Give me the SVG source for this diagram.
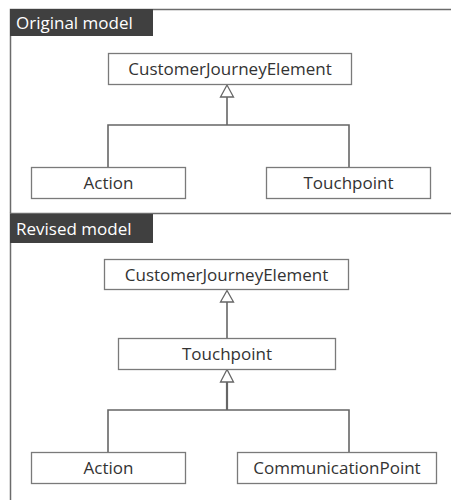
<svg xmlns="http://www.w3.org/2000/svg" width="451" height="500" viewBox="0 0 451 500">
<defs>
<style>
.frame{fill:none;stroke:#6b6b6b;stroke-width:1.5}
.tab{fill:#404040}
.tabtext{font-family:"Open Sans","Noto Sans",sans-serif;font-size:17px;fill:#ffffff}
.box{fill:#ffffff;stroke:#7a7a7a;stroke-width:1.3}
.label{font-family:"Open Sans","Noto Sans",sans-serif;font-size:17px;fill:#333333;text-anchor:middle}
.conn{fill:none;stroke:#666666;stroke-width:1.6}
.head{fill:#ffffff;stroke:#666666;stroke-width:1.3}
</style>
</defs>
<rect width="451" height="500" fill="#ffffff"/>
<!-- frames -->
<g id="frame-original">
<path class="frame" d="M451 9.5H10.5V213"/>
<rect class="tab" x="10" y="9" width="143" height="27"/>
<text class="tabtext" x="16" y="29">Original model</text>
</g>
<g id="frame-revised">
<path class="frame" d="M451 213.5H10.5V500"/>
<rect class="tab" x="10" y="214" width="143" height="29"/>
<text class="tabtext" x="16" y="235">Revised model</text>
</g>
<!-- connectors -->
<g id="connectors">
<path class="conn" d="M227 97V125M108 167V125H349V167"/>
<polygon class="head" points="227,85 220.5,97 233.5,97"/>
<path class="conn" d="M227 302V338"/>
<polygon class="head" points="227,290.5 220.5,302 233.5,302"/>
<path class="conn" d="M227 382V410" style="stroke-width:2.2"/>
<path class="conn" d="M108 452V410H349V452"/>
<polygon class="head" points="227,369.5 220.5,382 233.5,382"/>
</g>
<!-- original model nodes -->
<g id="o-cje">
<rect class="box" x="108.5" y="53.5" width="243" height="31"/>
<text class="label" x="230" y="75">CustomerJourneyElement</text>
</g>
<g id="o-action">
<rect class="box" x="31.5" y="167.5" width="154" height="31"/>
<text class="label" x="108.5" y="189">Action</text>
</g>
<g id="o-touchpoint">
<rect class="box" x="266.5" y="167.5" width="164" height="31"/>
<text class="label" x="348.5" y="189">Touchpoint</text>
</g>
<!-- revised model nodes -->
<g id="r-cje">
<rect class="box" x="104.5" y="259.5" width="244" height="30"/>
<text class="label" x="226.5" y="280.5">CustomerJourneyElement</text>
</g>
<g id="r-touchpoint">
<rect class="box" x="118.5" y="338.5" width="217" height="31"/>
<text class="label" x="227" y="360">Touchpoint</text>
</g>
<g id="r-action">
<rect class="box" x="31.5" y="452.5" width="154" height="31"/>
<text class="label" x="108.5" y="474">Action</text>
</g>
<g id="r-communicationpoint">
<rect class="box" x="237.5" y="452.5" width="199" height="31"/>
<text class="label" x="337" y="474">CommunicationPoint</text>
</g>
</svg>
